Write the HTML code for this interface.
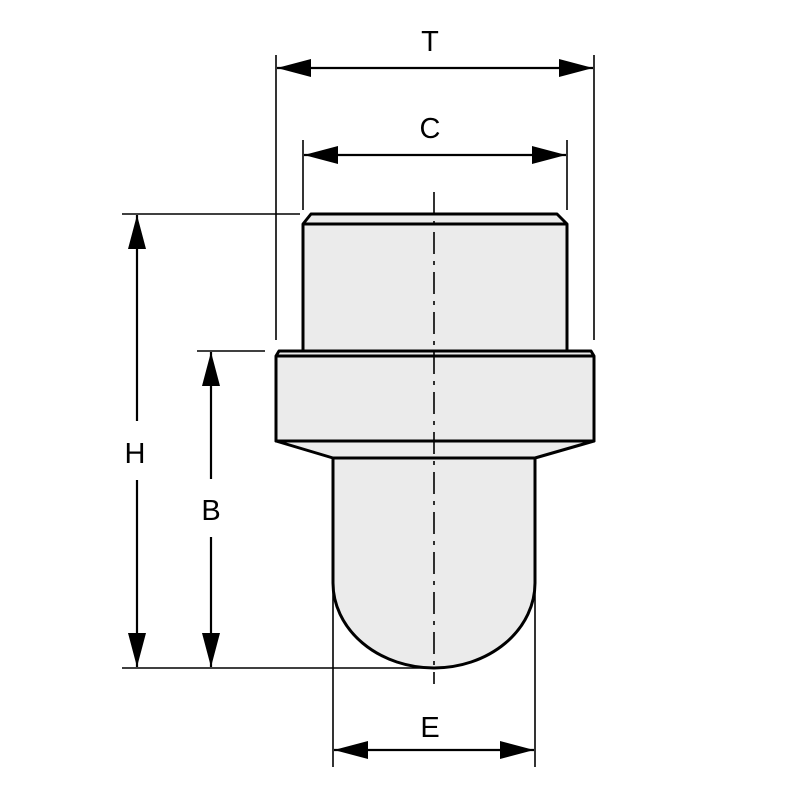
<!DOCTYPE html>
<html><head><style>body{margin:0;background:#fff}</style></head><body>
<svg width="800" height="800" viewBox="0 0 800 800" xmlns="http://www.w3.org/2000/svg">
<defs>
<marker id="a" viewBox="0 0 34 18" refX="34" refY="9" markerWidth="34" markerHeight="18" markerUnits="userSpaceOnUse" orient="auto-start-reverse"><path d="M0,0L34,9L0,18z" fill="#000"/></marker>
</defs>
<g fill="#ebebeb" stroke="#000" stroke-width="3" stroke-linejoin="round">
<path d="M311,214H557L567,224V351H303V224Z"/>
<path d="M303,224H567" fill="none"/>
<path d="M333,455V583A101,85 0 0 0 535,583V455Z"/>
<path d="M276,441L333,458H535L594,441Z"/>
<path d="M279,351H591L594,356V441H276V356Z"/>
<path d="M276,356H594" fill="none"/>
</g>
<line x1="434" y1="192" x2="434" y2="684" stroke="#000" stroke-width="1.6" stroke-dasharray="22,7,4,7"/>
<g stroke="#000" stroke-width="1.6" fill="none">
<line x1="276" y1="55" x2="276" y2="340"/><line x1="594" y1="55" x2="594" y2="340"/>
<line x1="303" y1="140" x2="303" y2="210"/><line x1="567" y1="140" x2="567" y2="210"/>
<line x1="122" y1="214" x2="300" y2="214"/><line x1="122" y1="668" x2="430" y2="668"/>
<line x1="197" y1="351" x2="265" y2="351"/>
<line x1="333" y1="583" x2="333" y2="767"/><line x1="535" y1="583" x2="535" y2="767"/>
<g stroke-width="2.2">
<line x1="277" y1="68" x2="593" y2="68" marker-start="url(#a)" marker-end="url(#a)"/>
<line x1="304" y1="155" x2="566" y2="155" marker-start="url(#a)" marker-end="url(#a)"/>
<line x1="137" y1="215" x2="137" y2="667" marker-start="url(#a)" marker-end="url(#a)"/>
<line x1="211" y1="352" x2="211" y2="667" marker-start="url(#a)" marker-end="url(#a)"/>
<line x1="334" y1="750" x2="534" y2="750" marker-start="url(#a)" marker-end="url(#a)"/>
</g></g>
<rect x="120" y="421" width="34" height="59" fill="#fff"/>
<rect x="195" y="479" width="34" height="58" fill="#fff"/>
<g font-family="Liberation Sans, sans-serif" font-size="29" text-anchor="middle">
<text x="430" y="51">T</text><text x="430" y="138">C</text>
<text x="135" y="463">H</text><text x="211" y="520">B</text><text x="430" y="737">E</text>
</g>
</svg>
</body></html>
